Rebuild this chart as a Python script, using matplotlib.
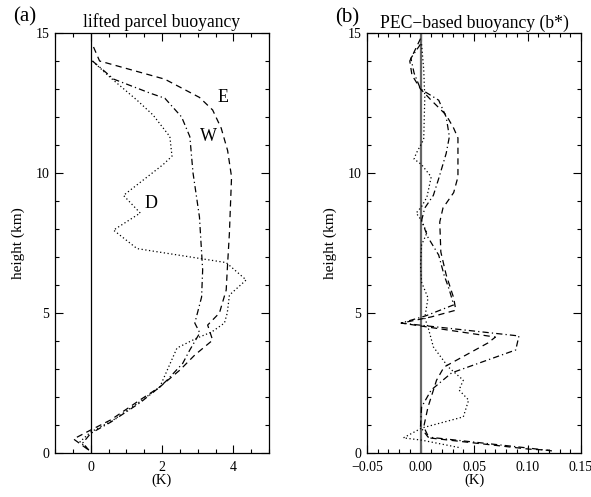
import matplotlib
matplotlib.use("Agg")
import matplotlib.pyplot as plt
from matplotlib.ticker import MultipleLocator, FuncFormatter

plt.rcParams["font.family"] = ["Liberation Serif", "DejaVu Serif"]

# (a) lifted parcel buoyancy (K) vs height (km)
e_z = [14.5, 14.0, 13.35, 12.7, 12.25, 11.6, 10.8, 9.86, 7.86, 6.54, 5.82, 5.0, 4.57,
       4.03, 3.5, 2.96, 2.36, 1.9, 1.18, 0.82, 0.5, 0.1]
e_b = [0.08, 0.25, 2.08, 3.05, 3.42, 3.66, 3.84, 3.95, 3.89, 3.83, 3.8, 3.61, 3.28,
       3.42, 2.92, 2.5, 1.94, 1.39, 0.56, 0.0, -0.48, -0.05]

w_z = [14.0, 13.35, 12.85, 12.67, 12.0, 11.3, 10.0, 8.43, 6.54, 5.57, 4.64, 4.29, 3.68,
       3.2, 2.6, 2.36, 1.8, 1.1, 0.7, 0.36, 0.1]
w_b = [0.05, 0.65, 1.67, 2.08, 2.55, 2.78, 2.87, 3.05, 3.14, 3.11, 2.92, 3.06, 2.78,
       2.58, 2.14, 1.94, 1.39, 0.56, 0.0, -0.22, -0.05]

d_z = [14.0, 13.4, 12.6, 12.07, 11.3, 10.6, 10.3, 9.2, 8.57, 7.96, 7.3, 6.8, 6.18, 5.64,
       5.0, 4.64, 4.32, 4.1, 3.75, 2.36, 1.85, 1.15, 0.75, 0.4, 0.1]
d_b = [0.05, 0.56, 1.3, 1.75, 2.22, 2.28, 2.03, 0.92, 1.39, 0.64, 1.3, 3.8, 4.36, 3.89,
       3.83, 3.75, 3.39, 2.97, 2.42, 1.94, 1.4, 0.6, 0.0, -0.3, -0.05]

# (b) PEC-based buoyancy b* (K)
pe_z = [14.8, 14.4, 14.0, 13.5, 13.0, 12.6, 12.07, 11.6, 11.25, 9.86, 9.3, 8.75, 8.25,
        7.18, 6.36, 5.54, 5.1, 4.86, 4.64, 4.14, 3.93, 3.07, 2.6, 1.64, 0.93, 0.54, 0.14, 0.1]
pe_b = [0.0, -0.005, -0.010, -0.008, 0.0, 0.010, 0.024, 0.031, 0.035, 0.035, 0.031, 0.021,
        0.018, 0.019, 0.024, 0.031, 0.033, 0.010, -0.018, 0.070, 0.063, 0.022, 0.015,
        0.007, 0.003, 0.008, 0.101, 0.12]

pw_z = [14.6, 14.1, 13.57, 13.0, 12.6, 12.0, 11.3, 10.7, 9.8, 9.2, 8.75, 8.3, 7.7, 7.07,
        6.36, 5.82, 5.29, 4.9, 4.64, 4.18, 3.68, 2.86, 2.25, 1.64, 0.93, 0.57, 0.18, 0.07]
pw_b = [0.0, -0.009, -0.006, 0.0, 0.017, 0.024, 0.027, 0.024, 0.017, 0.012, 0.004, 0.001,
        0.007, 0.017, 0.022, 0.027, 0.031, 0.005, -0.018, 0.092, 0.089, 0.029, 0.010,
        0.001, 0.0, 0.007, 0.10, 0.124]

pd_z = [14.6, 13.7, 12.7, 11.2, 10.7, 10.5, 10.3, 9.86, 9.14, 8.8, 8.57, 8.3, 7.86, 7.43,
        6.7, 6.1, 5.54, 4.82, 4.5, 3.79, 3.07, 2.6, 2.25, 1.89, 1.29, 0.89, 0.54, 0.46, 0.18]
pd_b = [0.001, 0.003, 0.004, 0.003, -0.004, -0.006, 0.001, 0.010, 0.006, 0.001, -0.004,
        0.001, 0.006, 0.001, 0.0, 0.001, 0.007, 0.004, 0.007, 0.012, 0.026, 0.040, 0.036,
        0.045, 0.040, 0.001, -0.016, 0.001, 0.038]

W, H = 591, 497
fig = plt.figure(figsize=(W / 100, H / 100), dpi=100)

ax1 = fig.add_axes([55 / W, 1 - 453 / H, 214 / W, 420 / H])
ax2 = fig.add_axes([367 / W, 1 - 453 / H, 214 / W, 420 / H])

lw = 0.9
dash = (0, (5, 3.5))
dashdot = (0, (5, 2.5, 1, 2.5))
dot = (0, (1, 2))

ax1.axvline(0, color="black", lw=0.9)
ax1.plot(e_b, e_z, color="black", lw=lw, linestyle=dash)
ax1.plot(w_b, w_z, color="black", lw=lw, linestyle=dashdot)
ax1.plot(d_b, d_z, color="black", lw=lw, linestyle=dot)
ax1.text(3.72, 12.7, "E", fontsize=13, ha="center", va="center")
ax1.text(3.3, 11.3, "W", fontsize=13, ha="center", va="center")
ax1.text(1.69, 8.9, "D", fontsize=13, ha="center", va="center")
ax1.set_xlim(-1, 5)
ax1.xaxis.set_major_locator(MultipleLocator(2))
ax1.xaxis.set_minor_locator(MultipleLocator(0.5))
ax1.set_title("lifted parcel buoyancy", fontsize=12.7, pad=4)

ax2.axvline(0, color="#666666", lw=1.6)
ax2.plot(pe_b, pe_z, color="black", lw=lw, linestyle=dash)
ax2.plot(pw_b, pw_z, color="black", lw=lw, linestyle=dashdot)
ax2.plot(pd_b, pd_z, color="black", lw=lw, linestyle=dot)
ax2.set_xlim(-0.05, 0.15)
ax2.xaxis.set_major_locator(MultipleLocator(0.05))
ax2.xaxis.set_minor_locator(MultipleLocator(0.01))
ax2.xaxis.set_major_formatter(FuncFormatter(lambda v, p: f"{v:.2f}".replace("-", "\u2212")))
ax2.set_title("PEC\u2212based buoyancy (b*)", fontsize=12.7, pad=4)

for ax in (ax1, ax2):
    ax.set_ylim(0, 15)
    ax.yaxis.set_major_locator(MultipleLocator(5))
    ax.yaxis.set_minor_locator(MultipleLocator(1))
    ax.tick_params(which="both", direction="in", top=True, right=True, labelsize=10, width=0.8)
    ax.tick_params(which="major", length=6)
    ax.tick_params(which="minor", length=3)
    ax.tick_params(axis="x", pad=6)
    ax.tick_params(axis="y", pad=4)
    for s in ax.spines.values():
        s.set_linewidth(0.9)
    ax.set_xlabel("(K)", fontsize=10.5)
    ax.set_ylabel("height (km)", fontsize=11)
    ax.xaxis.set_label_coords(0.5, -0.05)
    ax.yaxis.set_label_coords(-0.14, 0.5)

fig.text(13 / W, 1 - 17 / H, "(a)", fontsize=15, ha="left", va="center")
fig.text(335 / W, 1 - 18 / H, "(b)", fontsize=15, ha="left", va="center")

fig.savefig("out.png", dpi=100)
